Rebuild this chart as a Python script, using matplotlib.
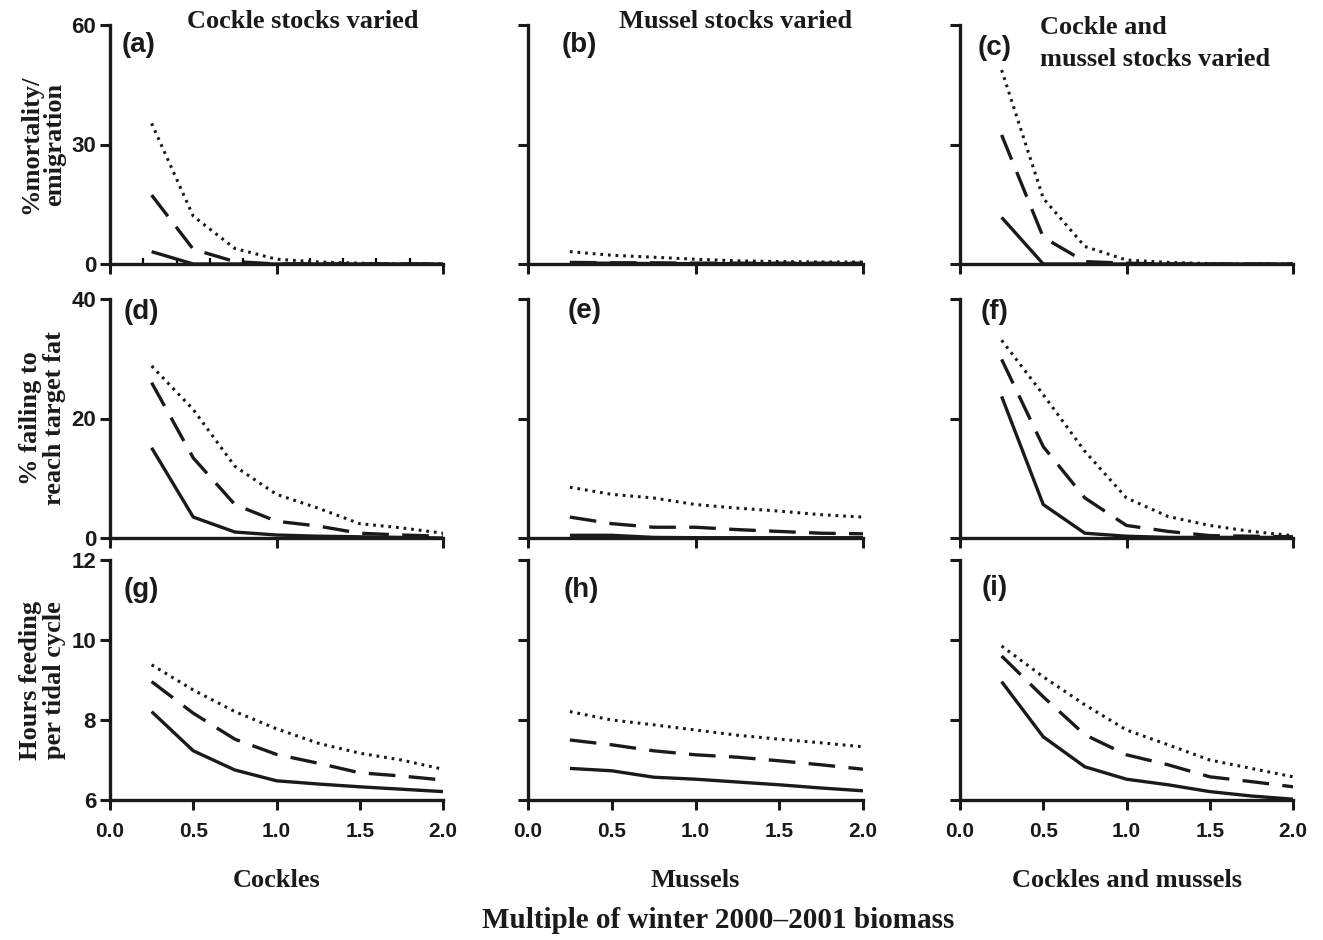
import numpy as np
import matplotlib
matplotlib.use('Agg')
import matplotlib.pyplot as plt
from matplotlib.ticker import MultipleLocator

x = [0.25, 0.5, 0.75, 1.0, 1.25, 1.5, 1.75, 2.0]

# row 1: % mortality / emigration
a_solid = [3.1, 0.0, 0.0, 0.0, 0.0, 0.0, 0.0, 0.0]
a_dash = [17.3, 3.7, 0.6, 0.0, 0.0, 0.0, 0.0, 0.0]
a_dot = [35.3, 12.0, 3.9, 1.2, 0.5, 0.2, 0.0, 0.0]
b_solid = [0.2, 0.2, 0.1, 0.1, 0.1, 0.1, 0.1, 0.1]
b_dash = [0.4, 0.3, 0.3, 0.2, 0.2, 0.2, 0.2, 0.2]
b_dot = [3.1, 2.2, 1.7, 1.2, 0.8, 0.6, 0.5, 0.5]
c_solid = [11.7, 0.0, 0.0, 0.0, 0.0, 0.0, 0.0, 0.0]
c_dash = [32.4, 6.7, 0.6, 0.2, 0.0, 0.0, 0.0, 0.0]
c_dot = [48.7, 16.5, 4.4, 1.0, 0.4, 0.1, 0.0, 0.0]

# row 2: % failing to reach target fat
d_solid = [15.1, 3.5, 1.0, 0.5, 0.3, 0.2, 0.1, 0.0]
d_dash = [26.0, 13.4, 5.6, 2.8, 2.0, 0.8, 0.5, 0.3]
d_dot = [28.8, 21.5, 12.0, 7.3, 5.0, 2.4, 1.7, 0.8]
e_solid = [0.45, 0.45, 0.1, 0.05, 0.05, 0.05, 0.05, 0.05]
e_dash = [3.5, 2.4, 1.8, 1.8, 1.4, 1.1, 0.8, 0.7]
e_dot = [8.5, 7.3, 6.7, 5.6, 5.0, 4.5, 3.9, 3.5]
f_solid = [23.7, 5.6, 0.8, 0.3, 0.1, 0.1, 0.1, 0.1]
f_dash = [29.9, 15.3, 6.7, 2.1, 1.1, 0.4, 0.3, 0.2]
f_dot = [33.1, 24.0, 14.5, 6.7, 3.6, 2.1, 1.1, 0.4]

# row 3: hours feeding per tidal cycle
g_solid = [8.21, 7.23, 6.75, 6.48, 6.40, 6.33, 6.27, 6.21]
g_dash = [8.96, 8.17, 7.52, 7.14, 6.92, 6.68, 6.60, 6.50]
g_dot = [9.38, 8.75, 8.21, 7.78, 7.42, 7.17, 7.00, 6.77]
h_solid = [6.79, 6.73, 6.57, 6.52, 6.45, 6.38, 6.30, 6.23]
h_dash = [7.50, 7.38, 7.23, 7.13, 7.07, 6.98, 6.88, 6.77]
h_dot = [8.21, 8.00, 7.88, 7.75, 7.62, 7.52, 7.43, 7.33]
i_solid = [8.96, 7.58, 6.83, 6.52, 6.38, 6.21, 6.10, 6.02]
i_dash = [9.60, 8.58, 7.63, 7.13, 6.88, 6.58, 6.46, 6.33]
i_dot = [9.85, 9.08, 8.38, 7.75, 7.38, 7.00, 6.79, 6.58]

panels = [
    [('(a)', a_solid, a_dash, a_dot), ('(b)', b_solid, b_dash, b_dot), ('(c)', c_solid, c_dash, c_dot)],
    [('(d)', d_solid, d_dash, d_dot), ('(e)', e_solid, e_dash, e_dot), ('(f)', f_solid, f_dash, f_dot)],
    [('(g)', g_solid, g_dash, g_dot), ('(h)', h_solid, h_dash, h_dot), ('(i)', i_solid, i_dash, i_dot)],
]
ylims = [(0, 60), (0, 40), (6, 12)]
yticks = [[0, 30, 60], [0, 20, 40], [6, 8, 10, 12]]
ylabels = ['%mortality/\nemigration', '% failing to\nreach target fat', 'Hours feeding\nper tidal cycle']
col_xlabels = ['Cockles', 'Mussels', 'Cockles and mussels']

serif = 'Liberation Serif'
sans = 'Liberation Sans'
ink = '#1a1a1a'

W, H = 1323, 940
fig = plt.figure(figsize=(W / 100, H / 100), dpi=100)

col_px = [(110, 443), (528, 863), (960, 1293)]
row_px = [(25, 264), (299, 538), (560, 800)]
label_pos = [
    [(0.036, 0.915), (0.10, 0.915), (0.054, 0.905)],
    [(0.04, 0.945), (0.117, 0.950), (0.063, 0.945)],
    [(0.04, 0.875), (0.107, 0.875), (0.066, 0.885)],
]

axes = []
for r in range(3):
    for c in range(3):
        x0, x1 = col_px[c]
        y0, y1 = row_px[r]
        ax = fig.add_axes([x0 / W, 1 - y1 / H, (x1 - x0) / W, (y1 - y0) / H])
        lab, ys, yd, yt = panels[r][c]
        ax.plot(x, ys, color=ink, lw=2.4, ls='-', solid_capstyle='butt')
        ax.plot(x, yd, color=ink, lw=2.4, ls=(0, (8, 4)), dash_capstyle='butt')
        ax.plot(x, yt, color=ink, lw=2.2, ls=(0, (0.9, 1.6)), dash_capstyle='butt')
        ax.set_xlim(0, 2.0)
        ax.set_ylim(*ylims[r])
        ax.set_yticks(yticks[r])
        for s in ['top', 'right']:
            ax.spines[s].set_visible(False)
        for s in ['left', 'bottom']:
            ax.spines[s].set_linewidth(2.4)
            ax.spines[s].set_color(ink)
        ax.tick_params(axis='both', which='major', length=7, width=2.2, color=ink)
        if r == 2:
            ax.set_xticks([0, 0.5, 1.0, 1.5, 2.0])
            ax.set_xticklabels(['0.0', '0.5', '1.0', '1.5', '2.0'])
            ax.set_xlabel(col_xlabels[c], fontsize=19, fontweight='bold', family=serif,
                          labelpad=20, color=ink)
        else:
            ax.set_xticks([0, 1.0, 2.0])
            ax.set_xticklabels([])
        if r == 0 and c == 0:
            ax.xaxis.set_minor_locator(MultipleLocator(0.2))
            ax.tick_params(axis='x', which='minor', direction='in', length=4, width=1.6)
        if c == 0:
            ax.set_ylabel(ylabels[r], fontsize=19, fontweight='bold', family=serif, labelpad=4,
                          linespacing=1.05, color=ink)
        else:
            ax.set_yticklabels([])
        for t in ax.get_xticklabels():
            t.set_fontfamily(sans)
            t.set_fontweight('bold')
            t.set_fontsize(15)
            t.set_color(ink)
        for t in ax.get_yticklabels():
            t.set_fontfamily(sans)
            t.set_fontweight('bold')
            t.set_fontsize(16)
            t.set_color(ink)
        ax.tick_params(axis='x', pad=9)
        ax.tick_params(axis='y', pad=3)
        lx, ly = label_pos[r][c]
        ax.text(lx, ly, lab, transform=ax.transAxes, fontsize=20, fontweight='bold',
                family=sans, va='center', ha='left', color=ink)
        axes.append(ax)

fig.align_ylabels([axes[0], axes[3], axes[6]])

fig.text(303 / W, 1 - 22 / H, 'Cockle stocks varied', fontsize=19, fontweight='bold',
         family=serif, ha='center', va='center', color=ink)
fig.text(736 / W, 1 - 22 / H, 'Mussel stocks varied', fontsize=19, fontweight='bold',
         family=serif, ha='center', va='center', color=ink)
fig.text(1040 / W, 1 - 44 / H, 'Cockle and\nmussel stocks varied', fontsize=19, fontweight='bold',
         family=serif, ha='left', va='center', color=ink, linespacing=1.5)
fig.text(718 / W, 1 - 921 / H, 'Multiple of winter 2000\u20132001 biomass', fontsize=21,
         fontweight='bold', family=serif, ha='center', va='center', color=ink)

fig.savefig('out.png', dpi=100, facecolor='white')
